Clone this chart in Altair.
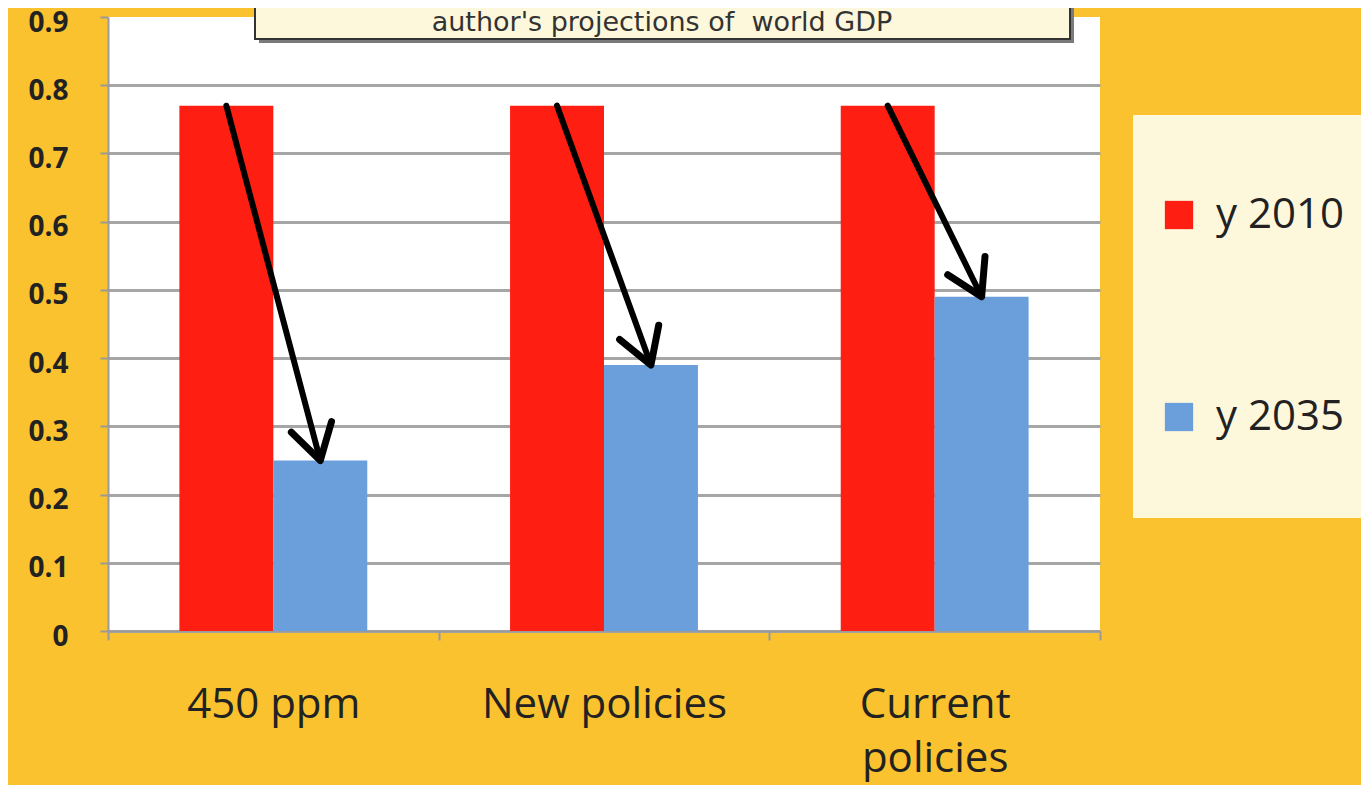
import math
import altair as alt
import pandas as pd

# ---------------- data ----------------
categories = ["450 ppm", "New policies", "Current policies"]
series = ["y 2010", "y 2035"]
values_2010 = [0.77, 0.77, 0.77]
values_2035 = [0.25, 0.39, 0.49]
y_ticks = [0, 0.1, 0.2, 0.3, 0.4, 0.5, 0.6, 0.7, 0.8, 0.9]
title_text = "author's projections of\u00a0 world GDP"

# ---------------- style ----------------
W, H = 992, 614
BG = "#F9C22E"
RED = "#FF1E12"
BLUE = "#6A9FDB"
CREAM = "#FDF8DC"
GRID = "#A6A6A6"
TXT = "#222222"
FONT = "Open Sans"
OFF_PAD = 0.76

rows = []
for c, a, b in zip(categories, values_2010, values_2035):
    rows.append({"cat": c, "series": series[0], "value": a})
    rows.append({"cat": c, "series": series[1], "value": b})
bars_df = pd.DataFrame(rows)

arrow_rows = []
for c, a, b in zip(categories, values_2010, values_2035):
    arrow_rows.append({"cat": c, "series": series[0], "value": a, "pt": 0})
    arrow_rows.append({"cat": c, "series": series[1], "value": b, "pt": 1})
arrow_df = pd.DataFrame(arrow_rows)

step = W / len(categories)
off_step = step / (len(series) + 2 * OFF_PAD)
heads = []
for c, a, b in zip(categories, values_2010, values_2035):
    dy = (a - b) * H / 0.9
    theta = math.degrees(math.atan2(off_step, dy))
    heads.append({"cat": c, "series": series[1], "value": b, "angle": 360 - theta})
head_df = pd.DataFrame(heads)

x_scale = alt.Scale(paddingInner=0, paddingOuter=0)
off_scale = alt.Scale(paddingInner=0, paddingOuter=OFF_PAD)
y_scale = alt.Scale(domain=[0, 0.9], nice=False, zero=True)

x_axis = alt.Axis(
    title=None, labelAngle=0, labelFontSize=42, labelFont=FONT, labelColor=TXT,
    labelPadding=44, labelLimit=0, tickBand="extent", tickSize=9, tickColor="#9A9A9A",
    tickWidth=2, domainColor="#9A9A9A", domainWidth=2, labelLineHeight=54,
    labelBaseline="top", grid=False,
    labelExpr="indexof(datum.label, 'Current') >= 0 ? split(datum.label, ' ') : datum.label",
)
y_axis = alt.Axis(
    title=None, values=y_ticks, labelFontSize=28, labelFontWeight="bold", labelFont=FONT,
    labelColor=TXT, labelPadding=32, labelOffset=6, tickSize=8, tickColor="#9A9A9A",
    tickWidth=2, domainColor="#9A9A9A", domainWidth=2, grid=True, gridColor=GRID,
    gridWidth=3,
    gridOpacity={"condition": {"test": "datum.value >= 0.89", "value": 0}, "value": 1},
    labelExpr="datum.value == 0 ? '0' : format(datum.value, '.1f')",
)

bars = alt.Chart(bars_df).mark_bar().encode(
    x=alt.X("cat:N", sort=categories, scale=x_scale, axis=x_axis),
    xOffset=alt.XOffset("series:N", sort=series, scale=off_scale),
    y=alt.Y("value:Q", scale=y_scale, axis=y_axis),
    color=alt.Color(
        "series:N", sort=series, scale=alt.Scale(domain=series, range=[RED, BLUE]),
        legend=alt.Legend(
            title=None, orient="none", legendX=1050, legendY=177, symbolType="square",
            symbolSize=800, labelFontSize=42, labelFont=FONT, labelColor=TXT,
            rowPadding=160, symbolStrokeWidth=0, labelOffset=16, padding=0,
            symbolOpacity=1,
        ),
    ),
)

lines = alt.Chart(arrow_df).mark_line(color="black", strokeWidth=6, strokeCap="round").encode(
    x=alt.X("cat:N", sort=categories),
    xOffset=alt.XOffset("series:N", sort=series),
    y=alt.Y("value:Q"),
    detail="cat:N",
    order="pt:Q",
)

heads_layer = alt.Chart(head_df).mark_point(
    shape="M-0.6,-1L0,0L0.6,-1", filled=False, stroke="black", strokeWidth=7,
    size=4800, opacity=1, strokeCap="round", strokeJoin="round",
).encode(
    x=alt.X("cat:N", sort=categories),
    xOffset=alt.XOffset("series:N", sort=series),
    y=alt.Y("value:Q"),
    angle=alt.Angle("angle:Q", scale=None),
)

box_df = pd.DataFrame({"t": [title_text]})
title_shadow = alt.Chart(box_df).mark_rect(fill="#7A7A7A").encode(
    x=alt.value(151), x2=alt.value(966), y=alt.value(-30), y2=alt.value(26)
)
title_box = alt.Chart(box_df).mark_rect(fill=CREAM, stroke="#333333", strokeWidth=2).encode(
    x=alt.value(147), x2=alt.value(962), y=alt.value(-30), y2=alt.value(22)
)
title_txt = alt.Chart(box_df).mark_text(
    font="DejaVu Sans", fontSize=27, color="#333333", baseline="middle", align="center"
).encode(x=alt.value(554), y=alt.value(6), text="t:N")

legend_box = alt.Chart(box_df).mark_rect(fill=CREAM).encode(
    x=alt.value(1025), x2=alt.value(1262), y=alt.value(98), y2=alt.value(501)
)

chart = alt.layer(
    legend_box, bars, lines, heads_layer, title_shadow, title_box, title_txt
).properties(
    width=W, height=H,
    autosize=alt.AutoSizeParams(type="none"),
    padding={"left": 100, "top": 9, "right": 261, "bottom": 154},
    background=BG,
).configure_view(fill="white", strokeWidth=0)

chart.save("out.html", embed_options={"renderer": "svg", "actions": False})
